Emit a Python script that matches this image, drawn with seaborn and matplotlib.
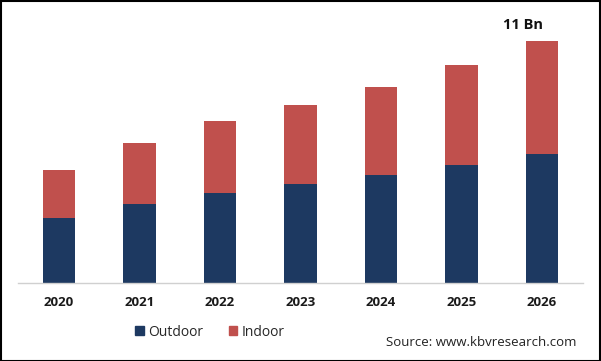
import matplotlib
matplotlib.use("Agg")
import matplotlib.pyplot as plt
import seaborn as sns
import pandas as pd
from matplotlib.patches import Rectangle

years = ["2020", "2021", "2022", "2023", "2024", "2025", "2026"]
outdoor = [2.95, 3.59, 4.09, 4.50, 4.90, 5.36, 5.86]
indoor = [2.19, 2.77, 3.27, 3.59, 4.00, 4.55, 5.14]
series = ["Outdoor", "Indoor"]
colors = ["#1d3961", "#c0504d"]
annotation = "11 Bn"
source = "Source: www.kbvresearch.com"

sns.set_theme(style="white")
plt.rcParams["font.family"] = ["Open Sans", "DejaVu Sans"]

totals = [o + i for o, i in zip(outdoor, indoor)]
df = pd.DataFrame({"year": years, "outdoor": outdoor, "total": totals})

fig = plt.figure(figsize=(6.01, 3.61), dpi=100)
ax = fig.add_axes([18 / 601, 1 - 283 / 361, (583 - 18) / 601, (283 - 10) / 361])

sns.barplot(data=df, x="year", y="total", color=colors[1], width=0.4,
            saturation=1, ax=ax, linewidth=0)
sns.barplot(data=df, x="year", y="outdoor", color=colors[0], width=0.4,
            saturation=1, ax=ax, linewidth=0)
if ax.get_legend() is not None:
    ax.get_legend().remove()

ax.set_xlim(-0.51, 6.51)
ax.set_ylim(0, 273 / 22)
ax.set_yticks([])
ax.set_xlabel("")
ax.set_ylabel("")
for s in ["top", "right", "left"]:
    ax.spines[s].set_visible(False)
ax.spines["bottom"].set_color("#d0d0d0")
ax.spines["bottom"].set_linewidth(1.0)
ax.tick_params(axis="x", length=0, pad=9)
for lab in ax.get_xticklabels():
    lab.set_fontweight("bold")
    lab.set_fontsize(9.5)
    lab.set_color("#1a1a1a")

ax.text(5.77, totals[-1] + 0.4, annotation, ha="center", va="bottom",
        fontsize=10.5, fontweight="bold", color="#111111")

# legend
handles = [Rectangle((0, 0), 1, 1, color=c) for c in colors]
fig.legend(handles, series, loc="center", bbox_to_anchor=(210 / 601, 1 - 332 / 361),
           ncol=2, frameon=False, fontsize=10, handlelength=0.6, handleheight=0.6,
           handletextpad=0.35, columnspacing=1.8,
           prop={"size": 10, "weight": "medium"})

fig.text(576 / 601, 1 - 343 / 361, source, ha="right", va="center",
         fontsize=9.5, color="#222222")

fig.patches.append(Rectangle((0.5 / 601, 0.5 / 361), 599.5 / 601, 359.5 / 361,
                             transform=fig.transFigure, fill=False,
                             edgecolor="black", linewidth=1.5))

fig.savefig("out.png", dpi=100)
